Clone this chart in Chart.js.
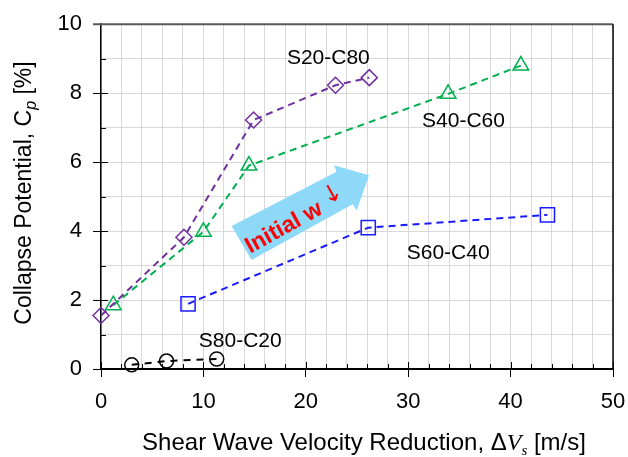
<!DOCTYPE html>
<html>
<head>
<meta charset="utf-8">
<script src="https://cdn.jsdelivr.net/npm/chart.js@4.4.1/dist/chart.umd.min.js"></script>
<style>
  html, body { margin: 0; padding: 0; background: #fff; }
  #wrap { width: 628px; height: 457px; }
</style>
</head>
<body>
<div id="wrap"><canvas id="myChart"></canvas></div>
<script>
// values
const s20c80X = [0, 8.1, 14.9, 22.9, 26.2];
const s20c80Y = [1.55, 3.82, 7.22, 8.23, 8.45];
const s40c60X = [1.2, 10.0, 14.45, 33.9, 41.0];
const s40c60Y = [1.85, 3.98, 5.9, 7.98, 8.8];
const s60c40X = [8.5, 26.1, 43.6];
const s60c40Y = [1.89, 4.1, 4.47];
const s80c20X = [3.0, 6.4, 11.3];
const s80c20Y = [0.12, 0.23, 0.29];
const xTicks = [0, 10, 20, 30, 40, 50];
const yTicks = [0, 2, 4, 6, 8, 10];

const SANS = '"Liberation Sans", Arial, sans-serif';
const SERIF = '"Liberation Serif", "Times New Roman", serif';

function pts(xs, ys) {
  return xs.map((x, i) => ({ x: x, y: ys[i] }));
}

// text and arrow placed in data units
const notes = {
  labels: [
    { text: 'S20-C80', x: 22.2, y: 9.0 },
    { text: 'S40-C60', x: 35.4, y: 7.18 },
    { text: 'S60-C40', x: 33.9, y: 3.37 },
    { text: 'S80-C20', x: 13.6, y: 0.81 }
  ],
  arrow: [[14.7, 3.16], [12.76, 4.15], [23.0, 5.72], [22.76, 5.91], [26.17, 5.62], [24.97, 4.6], [24.58, 4.78]],
  arrowText: { x: 19.0, y: 4.28, angle: -29 }
};

function series(label, xs, ys, color, style, radius, dash) {
  return {
    label: label,
    data: pts(xs, ys),
    showLine: true,
    clip: false,
    borderColor: color,
    borderWidth: 2,
    borderDash: dash,
    pointStyle: style,
    pointRadius: radius,
    pointHoverRadius: radius,
    pointBorderColor: color,
    pointBackgroundColor: 'rgba(0,0,0,0)',
    pointBorderWidth: 1.5
  };
}

const data = {
  datasets: [
    series('S20-C80', s20c80X, s20c80Y, '#7030A0', 'rectRot', 8, [7, 5]),
    series('S40-C60', s40c60X, s40c60Y, '#00B050', 'triangle', 9, [7, 5]),
    series('S60-C40', s60c40X, s60c40Y, '#1A1AFF', 'rect', 10, [7, 5]),
    series('S80-C20', s80c20X, s80c20Y, '#000000', 'circle', 7, [7, 6])
  ]
};

function drawParts(ctx, parts, x, y) {
  // parts centered on x, sitting on baseline y
  let total = 0;
  parts.forEach(p => { ctx.font = p.font; total += ctx.measureText(p.t).width; });
  let cx = x - total / 2;
  parts.forEach(p => {
    ctx.font = p.font;
    ctx.fillText(p.t, cx, y + (p.dy || 0));
    cx += ctx.measureText(p.t).width;
  });
}

const extras = {
  id: 'extras',
  beforeDatasetsDraw(chart) {
    const { ctx, chartArea: a, scales: { x, y } } = chart;
    ctx.save();

    // minor ticks pointing into the plot
    ctx.strokeStyle = '#000';
    ctx.lineWidth = 1;
    x.ticks.forEach(t => {
      const px = Math.round(x.getPixelForValue(t.value)) + 0.5;
      const len = xTicks.includes(t.value) ? 7 : 5;
      ctx.beginPath(); ctx.moveTo(px, a.bottom); ctx.lineTo(px, a.bottom - len); ctx.stroke();
    });
    y.ticks.forEach(t => {
      const py = Math.round(y.getPixelForValue(t.value)) + 0.5;
      const len = yTicks.includes(t.value) ? 7 : 5;
      ctx.beginPath(); ctx.moveTo(a.left, py); ctx.lineTo(a.left + len, py); ctx.stroke();
    });

    // plot frame
    ctx.strokeStyle = '#595959';
    ctx.lineWidth = 2;
    ctx.beginPath(); ctx.moveTo(a.left - 8, a.top); ctx.lineTo(a.right, a.top); ctx.stroke();
    ctx.strokeStyle = '#000';
    ctx.lineWidth = 1.5;
    ctx.beginPath(); ctx.moveTo(a.right, a.top); ctx.lineTo(a.right, a.bottom); ctx.stroke();

    // big arrow
    ctx.beginPath();
    notes.arrow.forEach(([vx, vy], i) => {
      const px = x.getPixelForValue(vx), py = y.getPixelForValue(vy);
      if (i) ctx.lineTo(px, py); else ctx.moveTo(px, py);
    });
    ctx.closePath();
    ctx.fillStyle = '#8ED8F8';
    ctx.fill();

    const at = notes.arrowText;
    ctx.translate(x.getPixelForValue(at.x), y.getPixelForValue(at.y));
    ctx.rotate(at.angle * Math.PI / 180);
    ctx.fillStyle = '#FF0000';
    ctx.textBaseline = 'middle';
    ctx.textAlign = 'left';
    drawParts(ctx, [
      { t: 'Initial w ', font: 'bold 23px ' + SANS },
      { t: '\u2193', font: '24px "DejaVu Sans", sans-serif', dy: -5 }
    ], 0, 0);
    ctx.restore();

    // series labels
    ctx.save();
    ctx.fillStyle = '#000';
    ctx.font = '21px ' + SANS;
    ctx.textAlign = 'center';
    ctx.textBaseline = 'middle';
    notes.labels.forEach(l => {
      ctx.fillText(l.text, x.getPixelForValue(l.x), y.getPixelForValue(l.y));
    });
    ctx.restore();
  },
  afterDraw(chart) {
    const { ctx } = chart;
    ctx.save();
    ctx.fillStyle = '#000';
    ctx.textAlign = 'left';
    ctx.textBaseline = 'alphabetic';
    // x axis title
    drawParts(ctx, [
      { t: 'Shear Wave Velocity Reduction, \u0394', font: '24px ' + SANS },
      { t: 'V', font: 'italic 24px ' + SERIF },
      { t: 's', font: 'italic 15px ' + SERIF, dy: 5 },
      { t: ' [m/s]', font: '24px ' + SANS }
    ], 364, 450);
    // y axis title
    ctx.translate(31, 193);
    ctx.rotate(-Math.PI / 2);
    drawParts(ctx, [
      { t: 'Collapse Potential, C', font: '23px ' + SANS },
      { t: 'p', font: 'italic 16px ' + SANS, dy: 5 },
      { t: ' [%]', font: '23px ' + SANS }
    ], 0, 0);
    ctx.restore();
  }
};

const config = {
  type: 'scatter',
  data,
  options: {
    responsive: false,
    animation: false,
    devicePixelRatio: 1,
    layout: { padding: { top: 22, right: 15, left: 0, bottom: 0 } },
    plugins: {
      legend: { display: false },
      tooltip: { enabled: false }
    },
    scales: {
      x: {
        type: 'linear',
        min: 0,
        max: 50,
        afterFit: s => { s.height = 88; s.paddingLeft = 0; s.paddingRight = 15; },
        ticks: {
          stepSize: 2,
          autoSkip: false,
          maxRotation: 0,
          padding: 12,
          color: '#000',
          font: { family: SANS, size: 22 },
          callback: v => xTicks.includes(v) ? v : ''
        },
        grid: {
          color: '#D9D9D9',
          lineWidth: 1,
          tickLength: 8,
          tickColor: c => xTicks.includes(c.tick.value) ? '#000' : 'rgba(0,0,0,0)'
        },
        border: { display: true, color: '#000', width: 2 }
      },
      y: {
        type: 'linear',
        min: 0,
        max: 10,
        afterFit: s => { s.width = 101; },
        ticks: {
          stepSize: 1,
          autoSkip: false,
          padding: 11,
          color: '#000',
          font: { family: SANS, size: 22 },
          callback: v => yTicks.includes(v) ? v : ''
        },
        grid: {
          color: '#D9D9D9',
          lineWidth: 1,
          tickLength: 8,
          tickColor: c => yTicks.includes(c.tick.value) ? '#000' : 'rgba(0,0,0,0)'
        },
        border: { display: true, color: '#000', width: 1.5 }
      }
    }
  },
  plugins: [extras]
};

const canvas = document.getElementById('myChart');
canvas.width = 628;
canvas.height = 457;
const myChart = new Chart(canvas, config);
</script>
</body>
</html>
